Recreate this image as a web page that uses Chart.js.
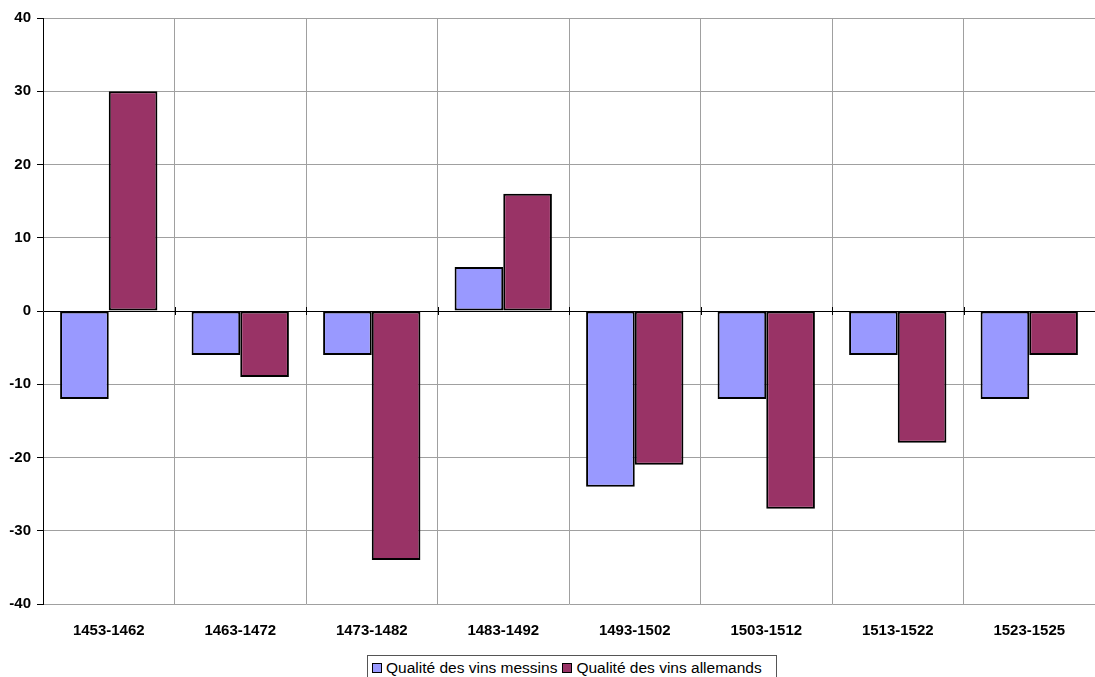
<!DOCTYPE html>
<html>
<head>
  <title>Qualité des vins</title>
<script src="https://cdn.jsdelivr.net/npm/chart.js"></script>
<style>
body { margin: 0; background: #fff; }
#wrap { position: relative; width: 1095px; height: 677px; overflow: hidden; }
#legend {
  position: absolute; left: 367px; top: 655px; width: 410px; height: 28px;
  border: 1px solid #555; box-sizing: border-box; background: #fff;
  font-family: "Liberation Sans", Arial, sans-serif; font-size: 15.5px; color: #000;
  display: flex; align-items: flex-start; padding: 3px 0 0 4px; white-space: nowrap;
}
.item { display: flex; align-items: center; margin-right: 5px; line-height: 18px; }
.swatch { width: 8px; height: 8px; border: 1px solid #000; margin-right: 4px; }
</style>
</head>
<body>
<div id="wrap">
  <canvas id="myChart" width="1095" height="677"></canvas>
  <div id="legend"></div>
</div>
<script>
const periods = ['1453-1462', '1463-1472', '1473-1482', '1483-1492', '1493-1502', '1503-1512', '1513-1522', '1523-1525'];
const messins = [-12, -6, -6, 6, -24, -12, -6, -12];
const allemands = [30, -9, -34, 16, -21, -27, -18, -6];
const yTicks = [-40, -30, -20, -10, 0, 10, 20, 30, 40];

const FONT = '"Liberation Sans", Arial, sans-serif';
const GRID = '#a0a0a0';

// small tick marks crossing the zero line at category boundaries
const zeroTicks = {
  id: 'zeroTicks',
  afterDatasetsDraw(chart) {
    const x = chart.scales.x, y = chart.scales.y;
    const y0 = y.getPixelForValue(0);
    const ctx = chart.ctx;
    ctx.save();
    ctx.strokeStyle = '#000';
    ctx.lineWidth = 1;
    for (let i = 1; i < periods.length; i++) {
      const px = Math.round((x.getPixelForValue(i - 1) + x.getPixelForValue(i)) / 2) + 0.5;
      ctx.beginPath();
      ctx.moveTo(px, y0 - 4);
      ctx.lineTo(px, y0 + 4);
      ctx.stroke();
    }
    ctx.restore();
  }
};

const config = {
  type: 'bar',
  data: {
    labels: periods,
    datasets: [
      {
        label: 'Qualité des vins messins',
        data: messins,
        backgroundColor: '#9999FF',
        borderColor: '#000',
        borderWidth: 2,
        borderSkipped: false
      },
      {
        label: 'Qualité des vins allemands',
        data: allemands,
        backgroundColor: '#993366',
        borderColor: '#000',
        borderWidth: 2,
        borderSkipped: false
      }
    ]
  },
  options: {
    responsive: false,
    animation: false,
    devicePixelRatio: 1,
    categoryPercentage: 0.74,
    barPercentage: 1,
    layout: { padding: { top: 18, right: 0, bottom: 0, left: 0 } },
    plugins: {
      legend: { display: false },
      tooltip: { enabled: false }
    },
    scales: {
      x: {
        offset: true,
        grid: {
          offset: true,
          drawTicks: false,
          color: ctx => ctx.index === 0 ? 'rgba(0,0,0,0)' : GRID
        },
        border: { display: false },
        ticks: {
          padding: 18,
          color: '#000',
          font: { family: FONT, size: 15, weight: 'bold' },
          maxRotation: 0
        },
        afterFit: s => { s.height = 73; }
      },
      y: {
        min: -40,
        max: 40,
        afterBuildTicks: s => { s.ticks = yTicks.map(v => ({ value: v })); },
        grid: {
          color: ctx => (ctx.tick && ctx.tick.value === 0) ? '#000' : GRID,
          tickColor: '#000',
          tickLength: 6
        },
        border: { color: '#000' },
        ticks: {
          padding: 6,
          color: '#000',
          font: { family: FONT, size: 15, weight: 'bold' }
        },
        afterFit: s => { s.width = 43; }
      }
    }
  },
  plugins: [zeroTicks]
};

const myChart = new Chart(document.getElementById('myChart'), config);

const legend = document.getElementById('legend');
myChart.data.datasets.forEach(ds => {
  const el = document.createElement('span');
  el.className = 'item';
  const sw = document.createElement('span');
  sw.className = 'swatch';
  sw.style.background = ds.backgroundColor;
  el.appendChild(sw);
  el.appendChild(document.createTextNode(ds.label));
  legend.appendChild(el);
});
</script>
</body>
</html>
